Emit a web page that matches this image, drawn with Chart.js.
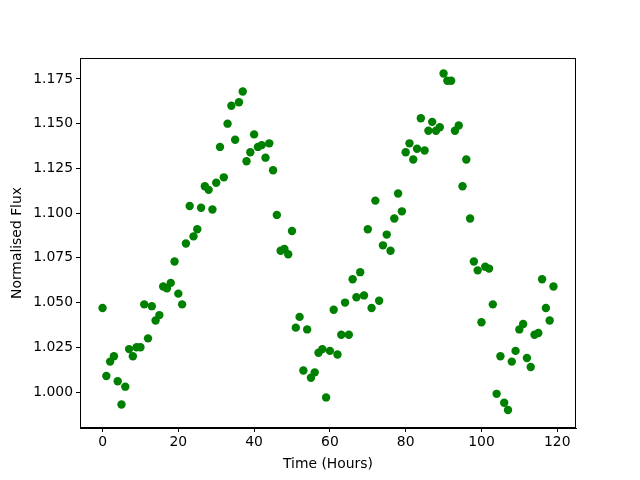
<!DOCTYPE html>
<html lang="en">
<head>
    <meta charset="UTF-8">
    <title>Normalised Flux</title>
    <script src="https://cdn.jsdelivr.net/npm/chart.js"></script>
    <style>
        body { margin: 0; background: #fff; }
        #wrap { width: 640px; height: 480px; }
    </style>
</head>
<body>
    <div id="wrap"><canvas id="flux" width="640" height="480"></canvas></div>
    <script>
        // one reading per hour, 0..119
        const hours = Array.from({ length: 120 }, (_, i) => i)
        const flux = [
            1.047, 1.009, 1.017, 1.020, 1.006, 0.993, 1.003, 1.024, 1.020, 1.025,
            1.025, 1.049, 1.030, 1.048, 1.040, 1.043, 1.059, 1.058, 1.061, 1.073,
            1.055, 1.049, 1.083, 1.104, 1.087, 1.091, 1.103, 1.115, 1.113, 1.102,
            1.117, 1.137, 1.120, 1.150, 1.160, 1.141, 1.162, 1.168, 1.129, 1.134,
            1.144, 1.137, 1.138, 1.131, 1.139, 1.124, 1.099, 1.079, 1.080, 1.077,
            1.090, 1.036, 1.042, 1.012, 1.035, 1.008, 1.011, 1.022, 1.024, 0.997,
            1.023, 1.046, 1.021, 1.032, 1.050, 1.032, 1.063, 1.053, 1.067, 1.054,
            1.091, 1.047, 1.107, 1.051, 1.082, 1.088, 1.079, 1.097, 1.111, 1.101,
            1.134, 1.139, 1.130, 1.136, 1.153, 1.135, 1.146, 1.151, 1.146, 1.148,
            1.178, 1.174, 1.174, 1.146, 1.149, 1.115, 1.130, 1.097, 1.073, 1.068,
            1.039, 1.070, 1.069, 1.049, 0.999, 1.020, 0.994, 0.990, 1.017, 1.023,
            1.035, 1.038, 1.019, 1.014, 1.032, 1.033, 1.063, 1.047, 1.040, 1.059
        ]
        const xTicks = [0, 20, 40, 60, 80, 100, 120]
        const yTicks = [1.000, 1.025, 1.050, 1.075, 1.100, 1.125, 1.150, 1.175]

        const font = { family: 'DejaVu Sans', size: 13.9 }

        // matplotlib style closed frame round the plot area
        const frame = {
            id: 'frame',
            afterDraw(chart) {
                const a = chart.chartArea, ctx = chart.ctx
                ctx.save()
                ctx.strokeStyle = '#000'
                ctx.lineWidth = 1
                ctx.strokeRect(a.left + 0.5, a.top + 0.5, a.right - a.left - 1, a.bottom - a.top - 1)
                ctx.restore()
            }
        }

        new Chart(document.getElementById('flux'), {
            type: 'scatter',
            data: {
                datasets: [{
                    label: 'Flux',
                    data: hours.map((h, i) => ({ x: h, y: flux[i] })),
                    backgroundColor: '#008000',
                    borderColor: '#008000',
                    pointRadius: 4.2,
                    borderWidth: 0
                }]
            },
            options: {
                responsive: false,
                animation: false,
                layout: { padding: { left: 0, top: 58, right: 64, bottom: 0 } },
                plugins: { legend: { display: false }, tooltip: { enabled: false } },
                scales: {
                    x: {
                        min: -5.95,
                        max: 124.95,
                        afterBuildTicks: s => { s.ticks = xTicks.map(v => ({ value: v })) },
                        afterFit: s => { s.height = 52 },
                        grid: { drawOnChartArea: false, tickLength: 4, tickColor: '#000' },
                        border: { color: '#000' },
                        ticks: { color: '#000', font, padding: 2, maxRotation: 0 },
                        title: { display: true, text: 'Time (Hours)', color: '#000', font, padding: { top: 7, bottom: 7 } }
                    },
                    y: {
                        min: 0.9799,
                        max: 1.1867,
                        afterBuildTicks: s => { s.ticks = yTicks.map(v => ({ value: v })) },
                        afterFit: s => { s.width = 80 },
                        grid: { drawOnChartArea: false, tickLength: 4, tickColor: '#000' },
                        border: { color: '#000' },
                        ticks: { color: '#000', font, padding: 3, callback: v => v.toFixed(3) },
                        title: { display: true, text: 'Normalised Flux', color: '#000', font, padding: { top: 9, bottom: 0 } }
                    }
                }
            },
            plugins: [frame]
        })
    </script>
</body>
</html>
